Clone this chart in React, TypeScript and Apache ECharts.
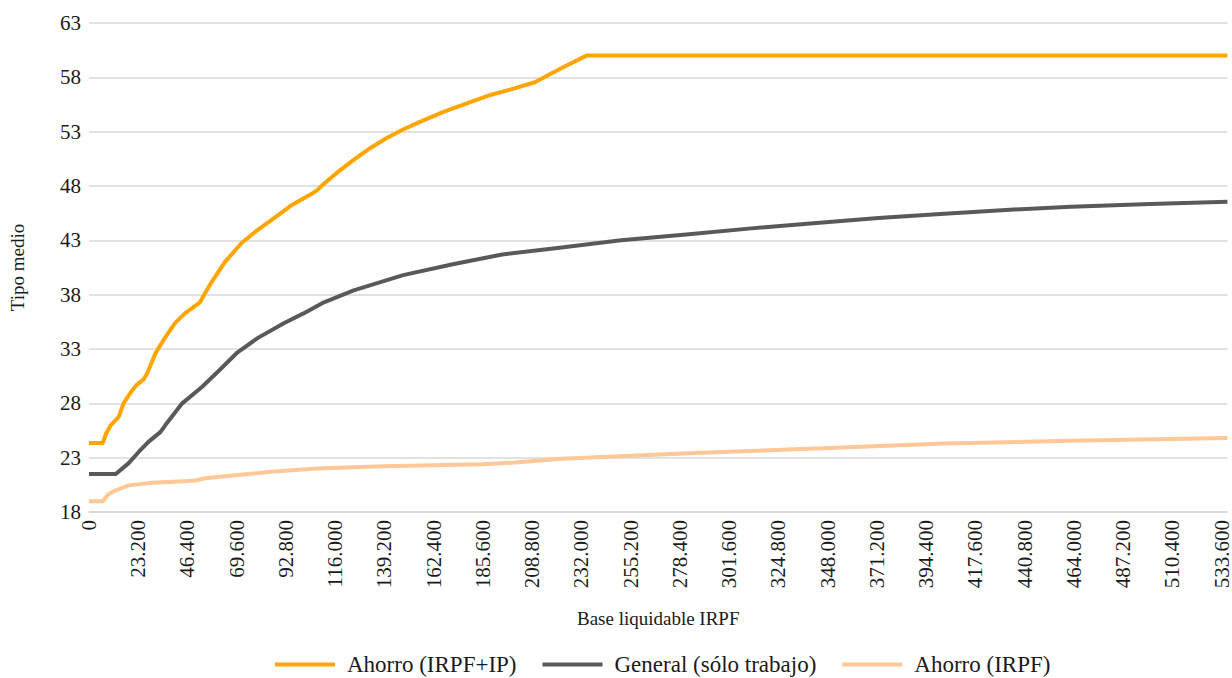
import React, { useEffect, useRef } from "react";
import * as echarts from "echarts";

// Average tax rate (%) by taxable base (€), as [base, rate] pairs
const ahorroIrpfIp: [number, number][] = [
  [0, 24.35], [6500, 24.35], [8000, 25.2], [10300, 26.0], [14000, 26.75],
  [16300, 28.0], [19600, 29.0], [22500, 29.7], [25700, 30.2], [27500, 30.8],
  [31300, 32.6], [36000, 34.1], [40600, 35.4], [45300, 36.3], [52300, 37.3],
  [53700, 37.8], [57900, 39.2], [64000, 41.0], [71900, 42.75], [79400, 43.95],
  [85900, 44.85], [95200, 46.2], [105100, 47.3], [107400, 47.6], [110700, 48.2],
  [116700, 49.2], [124700, 50.4], [132600, 51.5], [140100, 52.4], [148000, 53.2],
  [155900, 53.9], [166700, 54.8], [179300, 55.7], [188600, 56.35], [198000, 56.85],
  [210100, 57.55], [213400, 57.9], [222700, 58.85], [234400, 60.0], [536400, 60.0],
];

const generalTrabajo: [number, number][] = [
  [0, 21.5], [12600, 21.5], [18700, 22.5], [23300, 23.5], [28000, 24.45],
  [33600, 25.35], [36000, 26.0], [43900, 28.0], [53200, 29.5], [60700, 30.9],
  [70000, 32.7], [79400, 34.0], [92000, 35.4], [101300, 36.3], [110700, 37.3],
  [124700, 38.4], [148000, 39.8], [171400, 40.8], [194700, 41.7], [222700, 42.35],
  [250700, 43.0], [282700, 43.55], [312000, 44.1], [342700, 44.6], [372000, 45.05],
  [403000, 45.45], [432000, 45.8], [462700, 46.1], [500000, 46.35], [536400, 46.55],
];

const ahorroIrpf: [number, number][] = [
  [0, 19.0], [6500, 19.0], [9000, 19.6], [12600, 20.0], [18700, 20.45],
  [29900, 20.7], [47000, 20.85], [50000, 20.9], [54600, 21.1], [70000, 21.4],
  [85900, 21.7], [107400, 22.0], [138700, 22.2], [185400, 22.4], [200800, 22.55],
  [222700, 22.9], [282700, 23.4], [342700, 23.85], [403000, 24.3], [462700, 24.55],
  [536400, 24.8],
];

const seriesNames = ["Ahorro (IRPF+IP)", "General (sólo trabajo)", "Ahorro (IRPF)"];
const seriesColors = ["#FFA500", "#595959", "#FFC896"];

const xMin = 0;
const xMax = 536400;
const xStep = 23200;
const yMin = 18;
const yMax = 63;
const yStep = 5;

const FONT = "Liberation Serif";
const TEXT = "#1a1a1a";

const fmtThousands = (v: number) =>
  String(Math.round(v)).replace(/\B(?=(\d{3})+(?!\d))/g, ".");

export default function App() {
  const ref = useRef<HTMLDivElement>(null);

  useEffect(() => {
    if (!ref.current) return;
    const chart = echarts.init(ref.current, undefined, { renderer: "svg" });
    const data = [ahorroIrpfIp, generalTrabajo, ahorroIrpf];
    chart.setOption({
      animation: false,
      backgroundColor: "#ffffff",
      textStyle: { fontFamily: FONT },
      grid: { left: 83, right: 0, top: 23, bottom: 166, containLabel: false },
      legend: {
        left: 270,
        top: 648,
        itemWidth: 60,
        itemHeight: 4,
        itemGap: 26,
        icon: "rect",
        data: seriesNames,
        textStyle: {
          fontFamily: FONT,
          fontSize: 23,
          color: TEXT,
          padding: [0, 0, 0, 7],
        },
      },
      xAxis: {
        type: "value",
        min: xMin,
        max: xMax,
        interval: xStep,
        name: "Base liquidable IRPF",
        nameLocation: "middle",
        nameGap: 97,
        nameTextStyle: { fontFamily: FONT, fontSize: 19, color: TEXT },
        axisLine: { show: true, lineStyle: { color: "#d9d9d9", width: 1.5 } },
        axisTick: { show: false },
        splitLine: { show: false },
        axisLabel: {
          rotate: 90,
          margin: 8,
          fontFamily: FONT,
          fontSize: 21,
          color: TEXT,
          showMaxLabel: false,
          formatter: (v: number) => fmtThousands(v),
        },
      },
      yAxis: {
        type: "value",
        min: yMin,
        max: yMax,
        interval: yStep,
        name: "Tipo medio",
        nameLocation: "middle",
        nameGap: 62,
        nameRotate: 90,
        nameTextStyle: { fontFamily: FONT, fontSize: 19, color: TEXT },
        axisLine: { show: false },
        axisTick: { show: false },
        splitLine: { show: true, lineStyle: { color: "#d9d9d9", width: 1.5 } },
        axisLabel: { margin: 8, fontFamily: FONT, fontSize: 21, color: TEXT },
      },
      series: data.map((d, i) => ({
        name: seriesNames[i],
        type: "line",
        data: d,
        showSymbol: false,
        symbol: "none",
        lineStyle: { color: seriesColors[i], width: 4, cap: "butt", join: "round" },
        itemStyle: { color: seriesColors[i] },
        z: 3 - i,
      })),
    });
    return () => chart.dispose();
  }, []);

  return (
    <div
      ref={ref}
      style={{ position: "fixed", left: 0, top: 0, width: 1232, height: 678 }}
    />
  );
}
